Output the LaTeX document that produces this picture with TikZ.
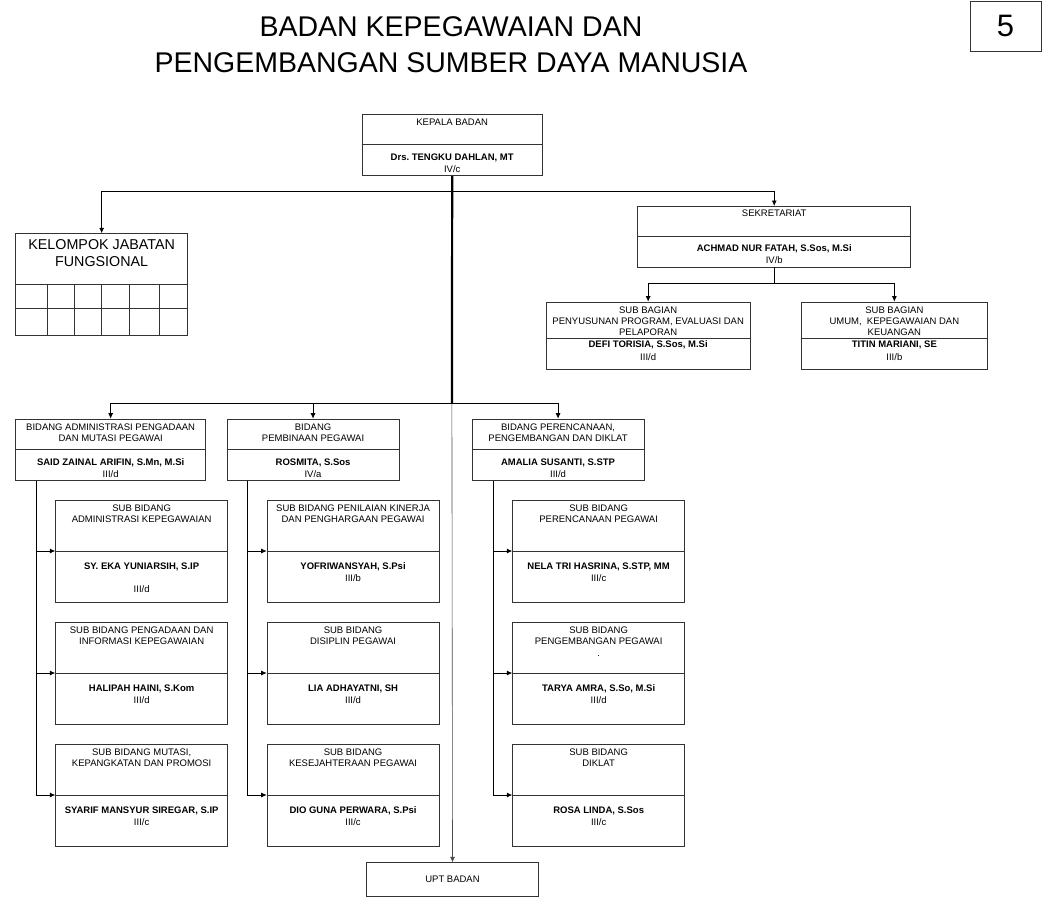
\documentclass[tikz,border=0pt]{standalone}
\usepackage{fontspec}
\setmainfont{Liberation Sans}
\usepackage{tikz}
\usetikzlibrary{positioning}
\usetikzlibrary{arrows.meta}
\frenchspacing
\tikzset{
  unitbox/.style={draw=black!80, line width=0.7pt, inner sep=0pt, anchor=north west},
  divline/.style={draw=black!80, line width=0.7pt},
  headtext/.style={inner sep=0pt, align=center, font=\fontsize{9.5}{11.3}\selectfont},
  whotext/.style={inner sep=0pt, align=center, font=\fontsize{9.5}{12}\selectfont},
  link/.style={draw=black, line width=0.8pt},
  trunk/.style={draw=black, line width=2.2pt},
  bigtitle/.style={inner sep=0pt, align=center, font=\fontsize{28.5}{36}\selectfont},
  >={Latex[length=5.5pt,width=5pt]}
}
% box with a line across it
\newcommand{\orgbox}[5]{%
  \node[unitbox, minimum width=#3, minimum height=#4] (#1) at #2 {};
  \draw[divline] ([yshift=-#5]#1.north west) -- ([yshift=-#5]#1.north east);
  \coordinate (#1-div) at ([yshift=-#5]#1.north);
  \coordinate (#1-dw) at ([yshift=-#5]#1.north west);
}

\begin{document}
\begin{tikzpicture}[x=1pt,y=-1pt]
\path[fill=white] (0,0) rectangle (1044,905);
\useasboundingbox (0,0) rectangle (1044,905);

\node[bigtitle] (judul) at (451,45) {BADAN KEPEGAWAIAN DAN\\PENGEMBANGAN SUMBER DAYA MANUSIA};
\node[unitbox, minimum width=70.5pt, minimum height=50pt, font=\fontsize{31}{31}\selectfont] (nomor) at (970,0.5) {5};

% kepala badan
\orgbox{kepala}{(361.5,114.3)}{180.7pt}{61pt}{30.4pt}
\node[headtext, below=4.5pt of kepala.north] (kepala-h) {KEPALA BADAN};
\node[whotext, below=8.6pt of kepala-div] (kepala-n) {\textbf{Drs. TENGKU DAHLAN, MT}\\IV/c};

% sekretariat
\orgbox{sekret}{(637.4,206)}{273pt}{60.7pt}{30.3pt}
\node[headtext, below=4pt of sekret.north] (sekret-h) {SEKRETARIAT};
\node[whotext, below=8.3pt of sekret-div] (sekret-n) {\textbf{ACHMAD NUR FATAH, S.Sos, M.Si}\\IV/b};

\orgbox{subprog}{(545.6,301.7)}{204.4pt}{67.6pt}{37pt}
\node[headtext, below=4.5pt of subprog.north] (subprog-h) {SUB BAGIAN\\PENYUSUNAN PROGRAM, EVALUASI DAN\\PELAPORAN};
\node[whotext, below=1.6pt of subprog-div] (subprog-n) {\textbf{DEFI TORISIA, S.Sos, M.Si}\\[1.5pt]III/d};

\orgbox{subumum}{(800.7,301.7)}{186.6pt}{67.6pt}{37pt}
\node[headtext, below=4.5pt of subumum.north] (subumum-h) {SUB BAGIAN\\UMUM,~~KEPEGAWAIAN DAN\\KEUANGAN};
\node[whotext, below=1.6pt of subumum-div] (subumum-n) {\textbf{TITIN MARIANI, SE}\\[1.5pt]III/b};

% kelompok jabatan fungsional
\node[unitbox, minimum width=172pt, minimum height=102pt] (kelompok) at (15.3,233.3) {};
\node[inner sep=0pt, align=center, font=\fontsize{14.3}{17.3}\selectfont, below=5.6pt of kelompok.north] (kelompok-h) {KELOMPOK JABATAN\\FUNGSIONAL};
\draw[divline] ([yshift=-51pt]kelompok.north west) -- ([yshift=-51pt]kelompok.north east);
\draw[divline] ([yshift=-75pt]kelompok.north west) -- ([yshift=-75pt]kelompok.north east);
\foreach \x in {47,74.3,101.7,129.3,159.3}
  \draw[divline] (\x,284.3) -- (\x,335.3);

% bidang
\orgbox{badm}{(15.3,418.7)}{190pt}{61.3pt}{30.6pt}
\node[headtext, below=4.9pt of badm.north] (badm-h) {BIDANG ADMINISTRASI PENGADAAN\\DAN MUTASI PEGAWAI};
\node[whotext, below=9pt of badm-div] (badm-n) {\textbf{SAID ZAINAL ARIFIN, S.Mn, M.Si}\\III/d};

\orgbox{bbin}{(226.7,418.7)}{172pt}{61.3pt}{30.6pt}
\node[headtext, below=4.9pt of bbin.north] (bbin-h) {BIDANG\\PEMBINAAN PEGAWAI};
\node[whotext, below=9pt of bbin-div] (bbin-n) {\textbf{ROSMITA, S.Sos}\\IV/a};

\orgbox{bren}{(471.7,418.7)}{172pt}{61.3pt}{30.6pt}
\node[headtext, below=4.9pt of bren.north] (bren-h) {BIDANG PERENCANAAN,\\PENGEMBANGAN DAN DIKLAT};
\node[whotext, below=9pt of bren-div] (bren-n) {\textbf{AMALIA SUSANTI, S.STP}\\III/d};

% sub bidang administrasi
\orgbox{sa1}{(55.3,500.3)}{172pt}{101.4pt}{50.7pt}
\node[headtext, below=4.3pt of sa1.north] (sa1-h) {SUB BIDANG\\ADMINISTRASI KEPEGAWAIAN};
\node[whotext, below=11.3pt of sa1-div] (sa1-n) {\textbf{SY. EKA YUNIARSIH, S.IP}\\[11pt]III/d};

\orgbox{sa2}{(55.3,622.3)}{172pt}{101.4pt}{50.7pt}
\node[headtext, below=4.3pt of sa2.north] (sa2-h) {SUB BIDANG PENGADAAN DAN\\INFORMASI KEPEGAWAIAN};
\node[whotext, below=11.3pt of sa2-div] (sa2-n) {\textbf{HALIPAH HAINI, S.Kom}\\III/d};

\orgbox{sa3}{(55.3,744.3)}{172pt}{101.4pt}{50.7pt}
\node[headtext, below=4.3pt of sa3.north] (sa3-h) {SUB BIDANG MUTASI,\\KEPANGKATAN DAN PROMOSI};
\node[whotext, below=11.3pt of sa3-div] (sa3-n) {\textbf{SYARIF MANSYUR SIREGAR, S.IP}\\III/c};

% sub bidang pembinaan
\orgbox{sb1}{(266.7,500.3)}{172pt}{101.4pt}{50.7pt}
\node[headtext, below=4.3pt of sb1.north] (sb1-h) {SUB BIDANG PENILAIAN KINERJA\\DAN PENGHARGAAN PEGAWAI};
\node[whotext, below=11.3pt of sb1-div] (sb1-n) {\textbf{YOFRIWANSYAH, S.Psi}\\III/b};

\orgbox{sb2}{(266.7,622.3)}{172pt}{101.4pt}{50.7pt}
\node[headtext, below=4.3pt of sb2.north] (sb2-h) {SUB BIDANG\\DISIPLIN PEGAWAI};
\node[whotext, below=11.3pt of sb2-div] (sb2-n) {\textbf{LIA ADHAYATNI, SH}\\III/d};

\orgbox{sb3}{(266.7,744.3)}{172pt}{101.4pt}{50.7pt}
\node[headtext, below=4.3pt of sb3.north] (sb3-h) {SUB BIDANG\\KESEJAHTERAAN PEGAWAI};
\node[whotext, below=11.3pt of sb3-div] (sb3-n) {\textbf{DIO GUNA PERWARA, S.Psi}\\III/c};

% sub bidang perencanaan
\orgbox{sc1}{(512.3,500.3)}{172pt}{101.4pt}{50.7pt}
\node[headtext, below=4.3pt of sc1.north] (sc1-h) {SUB BIDANG\\PERENCANAAN PEGAWAI};
\node[whotext, below=11.3pt of sc1-div] (sc1-n) {\textbf{NELA TRI HASRINA, S.STP, MM}\\III/c};

\orgbox{sc2}{(512.3,622.3)}{172pt}{101.4pt}{50.7pt}
\node[headtext, below=4.3pt of sc2.north] (sc2-h) {SUB BIDANG\\PENGEMBANGAN PEGAWAI\\.};
\node[whotext, below=11.3pt of sc2-div] (sc2-n) {\textbf{TARYA AMRA, S.So, M.Si}\\III/d};

\orgbox{sc3}{(512.3,744.3)}{172pt}{101.4pt}{50.7pt}
\node[headtext, below=4.3pt of sc3.north] (sc3-h) {SUB BIDANG\\DIKLAT};
\node[whotext, below=11.3pt of sc3-div] (sc3-n) {\textbf{ROSA LINDA, S.Sos}\\III/c};

% upt
\node[unitbox, minimum width=171.5pt, minimum height=33.7pt, font=\fontsize{9.5}{11.3}\selectfont] (upt) at (366.4,862.3) {UPT BADAN};

% garis
\coordinate (topbus) at (451.9,191.7);
\coordinate (midbus) at (451.9,403.3);
\draw[trunk] (kepala.south) -- (midbus);
\draw[link, draw=black!70, line width=0.6pt, ->] (midbus) -- (upt.north);
\draw[link, ->] (topbus) -| (kelompok.north);
\draw[link, ->] (topbus) -| (sekret.north);
\draw[link] (sekret.south) -- ++(0,16) coordinate (sekbus);
\draw[link, ->] (sekbus) -| (subprog.north);
\draw[link, ->] (sekbus) -| (subumum.north);
\draw[link, ->] (midbus) -| (badm.north);
\draw[link, ->] (midbus) -| (bbin.north);
\draw[link, ->] (midbus) -| (bren.north);

\coordinate (badm-c) at ([xshift=21.4pt]badm.south west);
\coordinate (bbin-c) at ([xshift=21pt]bbin.south west);
\coordinate (bren-c) at ([xshift=21.6pt]bren.south west);
\foreach \s in {sa1,sa2,sa3}
  \draw[link, ->] (badm-c) |- (\s-dw);
\foreach \s in {sb1,sb2,sb3}
  \draw[link, ->] (bbin-c) |- (\s-dw);
\foreach \s in {sc1,sc2,sc3}
  \draw[link, ->] (bren-c) |- (\s-dw);
\end{tikzpicture}
\end{document}
